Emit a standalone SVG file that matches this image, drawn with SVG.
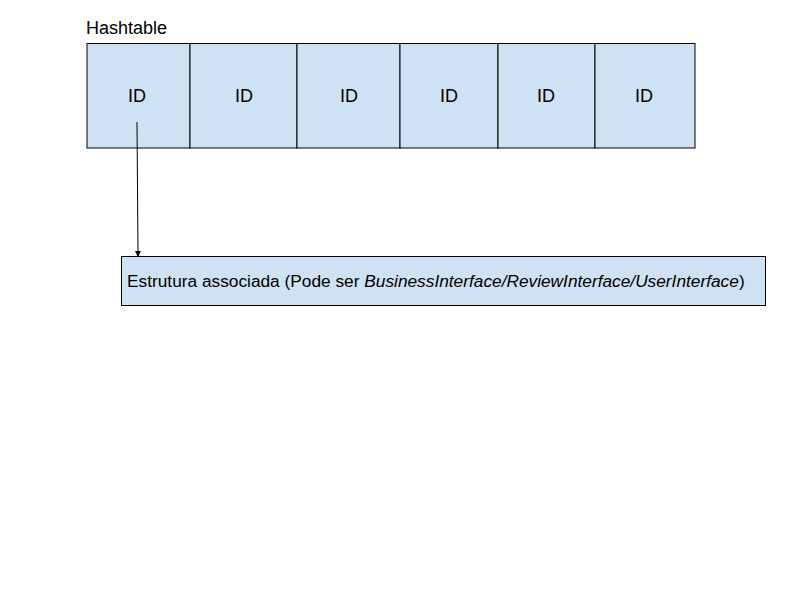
<svg xmlns="http://www.w3.org/2000/svg" width="800" height="600" viewBox="0 0 800 600">
<defs>
<style>
.cell{fill:#cfe2f3;stroke:#000;stroke-width:1}
.t{font-family:"Liberation Sans",Arial,sans-serif;font-size:18px;fill:#000}
.c{text-anchor:middle}
</style>
<marker id="ah" markerWidth="6" markerHeight="6" refX="5" refY="3" orient="auto" markerUnits="userSpaceOnUse">
<path d="M0,0 L6,3 L0,6 z" fill="#000"/>
</marker>
</defs>
<rect width="800" height="600" fill="#fff"/>
<text class="t" x="86" y="34">Hashtable</text>
<g id="hashtable">
<g id="cell1"><rect class="cell" x="87" y="43.5" width="103" height="104.5"/><text class="t c" x="137" y="102">ID</text></g>
<g id="cell2"><rect class="cell" x="190" y="43.5" width="107" height="104.5"/><text class="t c" x="244" y="102">ID</text></g>
<g id="cell3"><rect class="cell" x="297" y="43.5" width="103" height="104.5"/><text class="t c" x="349" y="102">ID</text></g>
<g id="cell4"><rect class="cell" x="400" y="43.5" width="98" height="104.5"/><text class="t c" x="449" y="102">ID</text></g>
<g id="cell5"><rect class="cell" x="498" y="43.5" width="97" height="104.5"/><text class="t c" x="546" y="102">ID</text></g>
<g id="cell6"><rect class="cell" x="595" y="43.5" width="100" height="104.5"/><text class="t c" x="644" y="102">ID</text></g>
</g>
<g id="estrutura">
<rect class="cell" x="121.5" y="256.5" width="644" height="49"/>
<text class="t" x="127" y="287" style="font-size:17.3px">Estrutura associada (Pode ser <tspan font-style="italic">BusinessInterface/ReviewInterface/UserInterface</tspan>)</text>
</g>
<g id="connectors">
<line x1="137" y1="122" x2="138" y2="256" stroke="#000" stroke-width="1" marker-end="url(#ah)"/>
</g>
</svg>
